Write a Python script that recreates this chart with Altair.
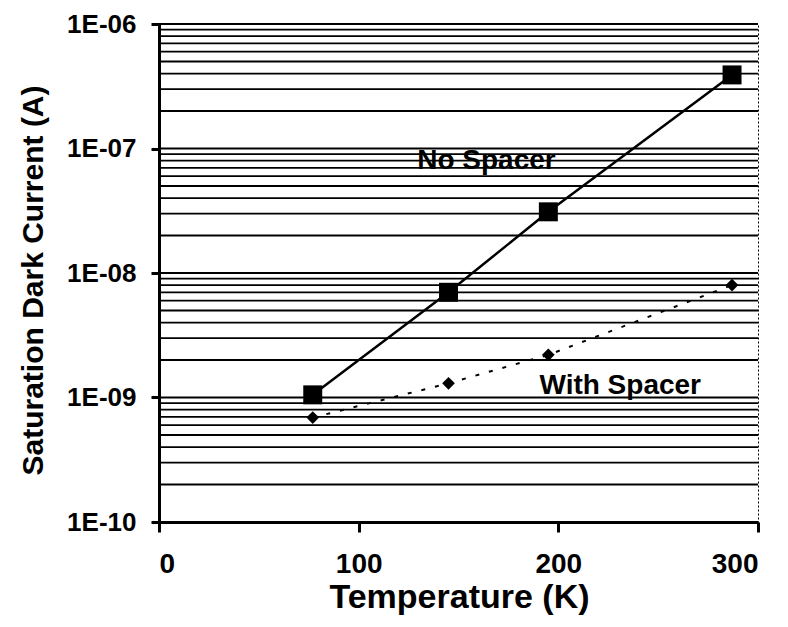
import altair as alt
import pandas as pd

# Data
temps = [77, 145, 195, 287]
no_spacer = [1.05e-9, 7.0e-9, 3.1e-8, 3.9e-7]
with_spacer = [6.9e-10, 1.3e-9, 2.2e-9, 8.0e-9]

x_ticks = [0, 100, 200, 300]
y_ticks = [1e-10, 1e-9, 1e-8, 1e-7, 1e-6]
y_tick_labels = ["1E-10", "1E-09", "1E-08", "1E-07", "1E-06"]

grid_mantissas = [1, 2, 3, 4, 5, 6, 7, 8, 9]
grid_exponents = [-10, -9, -8, -7]

label_text = ["No Spacer", "With Spacer"]
label_x = [164, 231]
label_y = [7.9e-8, 1.24e-9]

FONT = "Liberation Sans"

grid_vals = [m * 10.0 ** e for e in grid_exponents for m in grid_mantissas if not (m == 1 and e == -10)] + [1e-6]
grid_df = pd.DataFrame({"v": grid_vals})
ns_df = pd.DataFrame({"T": temps, "I": no_spacer})
ws_df = pd.DataFrame({"T": temps, "I": with_spacer})
lab_df = pd.DataFrame({"T": label_x, "I": label_y, "t": label_text})

xscale = alt.Scale(domain=[0, 300], nice=False, zero=False)
yscale = alt.Scale(type="log", domain=[1e-10, 1e-6], nice=False)

label_expr = "[" + ",".join("'%s'" % s for s in y_tick_labels) + "][round(log(datum.value)/LN10)+10]"

xaxis = alt.Axis(
    values=x_ticks, grid=False, title="Temperature (K)",
    labelFont=FONT, labelFontSize=28, labelFontWeight="bold", labelColor="black",
    titleFont=FONT, titleFontSize=34, titleFontWeight="bold", titleColor="black",
    domainColor="black", domainWidth=3, tickColor="black", tickWidth=3, tickSize=10,
    labelPadding=18, titleX=300, titleY=85, titleBaseline="alphabetic",
)
yaxis = alt.Axis(
    values=y_ticks, grid=False, title="Saturation Dark Current (A)",
    labelExpr=label_expr,
    labelFont=FONT, labelFontSize=26, labelFontWeight="bold", labelColor="black",
    titleFont=FONT, titleFontSize=30, titleFontWeight="bold", titleColor="black",
    domainColor="black", domainWidth=3, tickColor="black", tickWidth=3, tickSize=8,
    labelPadding=15, titleX=-117, titleY=256, titleAngle=270, titleBaseline="alphabetic",
)

grid = alt.Chart(grid_df).mark_rule(color="black", strokeWidth=1.8).encode(
    y=alt.Y("v:Q", scale=yscale, axis=yaxis)
)

ns_line = alt.Chart(ns_df).mark_line(color="black", strokeWidth=2.5).encode(
    x=alt.X("T:Q", scale=xscale, axis=xaxis),
    y=alt.Y("I:Q", scale=yscale),
)
ns_pts = alt.Chart(ns_df).mark_point(shape="square", filled=True, color="black", size=360, opacity=1).encode(
    x=alt.X("T:Q", scale=xscale),
    y=alt.Y("I:Q", scale=yscale),
)
ws_line = alt.Chart(ws_df).mark_line(color="black", strokeWidth=2, strokeDash=[4, 10]).encode(
    x=alt.X("T:Q", scale=xscale),
    y=alt.Y("I:Q", scale=yscale),
)
ws_pts = alt.Chart(ws_df).mark_point(shape="diamond", filled=True, color="black", size=160, opacity=1).encode(
    x=alt.X("T:Q", scale=xscale),
    y=alt.Y("I:Q", scale=yscale),
)
labels = alt.Chart(lab_df).mark_text(
    font=FONT, fontSize=28, fontWeight="bold", color="black", align="center", baseline="middle"
).encode(
    x=alt.X("T:Q", scale=xscale),
    y=alt.Y("I:Q", scale=yscale),
    text="t:N",
)

chart = alt.layer(grid, ns_line, ws_line, ns_pts, ws_pts, labels).properties(
    width=599, height=498,
    autosize=alt.AutoSizeParams(type="none"),
    padding={"left": 151, "top": 16, "right": 20, "bottom": 100},
    background="white",
).configure_view(stroke="black", strokeWidth=1, strokeDash=[2, 2])

chart.save("out.html", embed_options={"renderer": "svg", "actions": False})
